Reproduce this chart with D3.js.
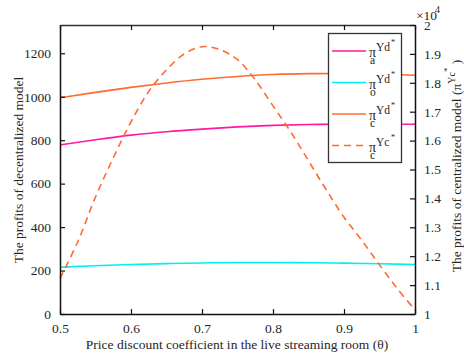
<!DOCTYPE html>
<html><head><meta charset="utf-8">
<script src="https://cdn.jsdelivr.net/npm/d3@7"></script>
<style>
body{margin:0;background:#fff;}
text{font-family:"Liberation Serif","Times New Roman",serif;fill:#262626;}
</style></head>
<body><svg id="c" width="464" height="356"></svg>
<script>
// ---- data ----
const thetaD = [0.5,0.55,0.6,0.65,0.7,0.75,0.8,0.85,0.9,0.95,1.0];
const piAYd = [778,802,823,839,851,861,868,872,874,874,873];
const piOYd = [215,222,228,232,235,237,237,236,234,231,228];
const piCYd = [995,1020,1043,1063,1080,1093,1102,1106,1107,1104,1099];
const thetaC = [0.5,0.525,0.55,0.575,0.6,0.625,0.65,0.675,0.7,0.725,0.75,0.775,0.8,0.825,0.85,0.875,0.9,0.925,0.95,0.975,1.0];
const piCYc = [1.123,1.25,1.405,1.54,1.665,1.77,1.845,1.9,1.925,1.915,1.88,1.81,1.72,1.63,1.53,1.43,1.335,1.255,1.17,1.088,1.014];
const xTicks = [0.5,0.6,0.7,0.8,0.9,1];
const xTickLabels = ["0.5","0.6","0.7","0.8","0.9","1"];
const yLeftTicks = [0,200,400,600,800,1000,1200];
const yLeftTickLabels = ["0","200","400","600","800","1000","1200"];
const yRightTicks = [1,1.1,1.2,1.3,1.4,1.5,1.6,1.7,1.8,1.9,2];
const yRightTickLabels = ["1","1.1","1.2","1.3","1.4","1.5","1.6","1.7","1.8","1.9","2"];

const L=60,R=415,T=25,B=314;
const svg=d3.select("#c");
const x=d3.scaleLinear().domain([0.5,1]).range([L,R]);
const yL=d3.scaleLinear().domain([0,1330]).range([B,T]);
const yR=d3.scaleLinear().domain([1,2]).range([B,T]);

const cMag="#ff1aa0", cCyan="#00f0f0", cOr="#ff6a30";

function line(xs,ys,ysc){
  return d3.line().x((d,i)=>x(xs[i])).y((d,i)=>ysc(ys[i])).curve(d3.curveMonotoneX)(ys);
}
const g=svg.append("g");
g.append("path").attr("d",line(thetaD,piAYd,yL)).attr("fill","none").attr("stroke",cMag).attr("stroke-width",1.6);
g.append("path").attr("d",line(thetaD,piOYd,yL)).attr("fill","none").attr("stroke",cCyan).attr("stroke-width",1.6);
g.append("path").attr("d",line(thetaD,piCYd,yL)).attr("fill","none").attr("stroke",cOr).attr("stroke-width",1.6);
g.append("path").attr("d",d3.line().x((d,i)=>x(thetaC[i])).y(d=>yR(d)).curve(d3.curveCatmullRom)(piCYc))
 .attr("fill","none").attr("stroke",cOr).attr("stroke-width",1.6).attr("stroke-dasharray","7,5");

// axes
const fs=13.5;
const ax=svg.append("g");
const axB=d3.axisBottom(x).tickValues(xTicks).tickFormat((d,i)=>xTickLabels[i]).tickSizeInner(-5).tickSizeOuter(0).tickPadding(9);
const ab=ax.append("g").attr("transform",`translate(0,${B})`).call(axB);
const axT=d3.axisTop(x).tickValues(xTicks).tickFormat("").tickSizeInner(-5).tickSizeOuter(0);
const at=ax.append("g").attr("transform",`translate(0,${T})`).call(axT);
const axL=d3.axisLeft(yL).tickValues(yLeftTicks).tickFormat((d,i)=>yLeftTickLabels[i]).tickSizeInner(-5).tickSizeOuter(0).tickPadding(9);
const al=ax.append("g").attr("transform",`translate(${L},0)`).call(axL);
const axR=d3.axisRight(yR).tickValues(yRightTicks).tickFormat((d,i)=>yRightTickLabels[i]).tickSizeInner(-5).tickSizeOuter(0).tickPadding(9);
const ar=ax.append("g").attr("transform",`translate(${R},0)`).call(axR);
[ab,at,al,ar].forEach(a=>{
  a.selectAll("path.domain").attr("stroke","#111").attr("stroke-width",1.5);
  a.selectAll(".tick line").attr("stroke","#111").attr("stroke-width",1.2);
  a.selectAll(".tick text").attr("font-family","Liberation Serif").attr("font-size",fs).attr("fill","#262626");
});
at.select("path.domain").attr("stroke","#333");

// x10^4
const ex=svg.append("text").attr("x",416).attr("y",20).attr("font-size",13.5);
ex.append("tspan").text("×10");
ex.append("tspan").attr("x",435).attr("y",13).attr("font-size",10).text("4");

// axis labels
svg.append("text").attr("transform",`translate(23,170) rotate(-90)`).attr("text-anchor","middle").attr("font-size",13.5)
  .text("The profits of decentralized model");
const rl=svg.append("text").attr("transform",`translate(461,166) rotate(-90)`).attr("text-anchor","middle").attr("font-size",13.5);
rl.append("tspan").text("The profits of centralized model (π");
rl.append("tspan").attr("font-size",10).attr("dy",-6).text("Yc");
rl.append("tspan").attr("font-size",9).attr("dy",-5).text("*");
rl.append("tspan").attr("dy",11).text(" )");
svg.append("text").attr("x",237).attr("y",349).attr("text-anchor","middle").attr("font-size",13.5)
  .text("Price discount coefficient in the live streaming room (θ)");

// legend
const leg=svg.append("g");
leg.append("rect").attr("x",328.5).attr("y",33.5).attr("width",73).attr("height",129).attr("fill","#fff").attr("stroke","#333").attr("stroke-width",1.3);
const items=[{sub:"a",sup:"Yd",c:cMag,dash:null},{sub:"o",sup:"Yd",c:cCyan,dash:null},{sub:"c",sup:"Yd",c:cOr,dash:null},{sub:"c",sup:"Yc",c:cOr,dash:"7,5"}];
items.forEach((it,i)=>{
  const yy=51+31.5*i;
  const ln=leg.append("line").attr("x1",332).attr("x2",366).attr("y1",yy).attr("y2",yy).attr("stroke",it.c).attr("stroke-width",1.6);
  if(it.dash) ln.attr("stroke-dasharray",it.dash);
  const t=leg.append("text").attr("x",369).attr("y",yy+6).attr("font-size",14);
  t.append("tspan").text("π");
  t.append("tspan").attr("x",376).attr("y",yy).attr("font-size",11.5).text(it.sup);
  t.append("tspan").attr("x",391).attr("y",yy-6).attr("font-size",8).text("*");
  t.append("tspan").attr("x",370).attr("y",yy+13).attr("font-size",11.5).text(it.sub);
});
</script></body></html>
